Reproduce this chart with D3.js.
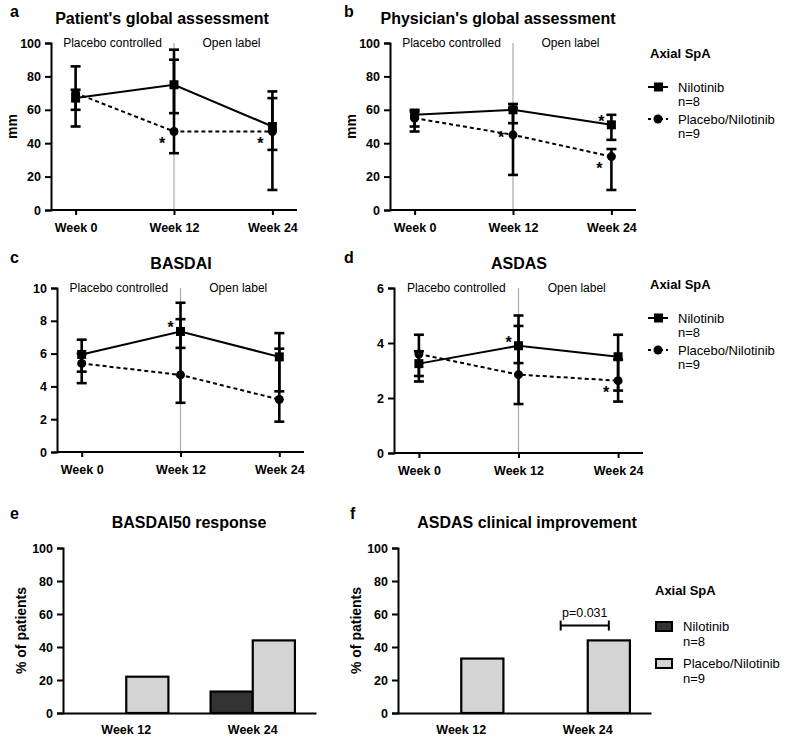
<html>
<head>
<meta charset="utf-8">
<title>Nilotinib axial SpA</title>
<script src="https://d3js.org/d3.v7.min.js"></script>
<style>
  body { margin: 0; padding: 0; background: #fff; }
  svg text { font-family: "Liberation Sans", Arial, Helvetica, sans-serif; fill: #000; }
</style>
</head>
<body>
<div id="chart"></div>
<script>

// ---- data ----
var weeks = ["Week 0", "Week 12", "Week 24"];
var seriesNames = ["Nilotinib", "Placebo/Nilotinib"];
var seriesN = ["n=8", "n=9"];

// a: patient's global assessment (mm)
var patientNilo   = [67, 75, 50];
var patientNiloLo = [50, 58, 36];
var patientNiloHi = [86, 96, 71];
var patientPlac   = [70, 47, 47];
var patientPlacLo = [60, 34, 12];
var patientPlacHi = [72, 90, 67];

// b: physician's global assessment (mm)
var physNilo   = [57, 60, 51];
var physNiloLo = [50, 52, 42];
var physNiloHi = [60, 63.5, 57];
var physPlac   = [55, 45, 32];
var physPlacLo = [47, 21, 12];
var physPlacHi = [59, 61, 36.5];

// c: BASDAI
var basdaiNilo   = [5.95, 7.35, 5.8];
var basdaiNiloLo = [4.9, 6.35, 3.7];
var basdaiNiloHi = [6.85, 9.1, 7.25];
var basdaiPlac   = [5.4, 4.7, 3.2];
var basdaiPlacLo = [4.2, 3.0, 1.85];
var basdaiPlacHi = [6.0, 8.1, 6.3];

// d: ASDAS
var asdasNilo   = [3.25, 3.9, 3.5];
var asdasNiloLo = [2.8, 3.27, 2.27];
var asdasNiloHi = [4.3, 5.0, 4.3];
var asdasPlac   = [3.6, 2.85, 2.63];
var asdasPlacLo = [2.6, 1.78, 1.87];
var asdasPlacHi = [3.7, 4.62, 3.4];

// significance stars: series 0 = Nilotinib, 1 = Placebo/Nilotinib
var patientStars = [{s: 1, w: 1, side: "below"}, {s: 1, w: 2, side: "below"}];
var physStars    = [{s: 1, w: 1, side: "left"}, {s: 0, w: 2, side: "above"}, {s: 1, w: 2, side: "below"}];
var basdaiStars  = [{s: 0, w: 1, side: "above"}];
var asdasStars   = [{s: 0, w: 1, side: "above"}, {s: 1, w: 2, side: "below"}];

// e, f: bar charts (% of patients)
var barWeeks = ["Week 12", "Week 24"];
var basdai50Nilo = [0, 13];
var basdai50Plac = [22, 44];
var asdasImpNilo = [0, 0];
var asdasImpPlac = [33, 44];
var pLabel = "p=0.031";
var pWeek = "Week 24";
var pLevel = 53;

var periodLabels = ["Placebo controlled", "Open label"];

// ---- drawing ----
var W = 785, H = 737;
var svg = d3.select("#chart").append("svg")
  .attr("width", W).attr("height", H);

var colors = ["#333333", "#d4d4d4"];
var starOffset = {above: [-10, -7], below: [-12, 8], left: [-12, -1]};

function styleAxis(g) {
  g.select(".domain").attr("stroke", "#000").attr("stroke-width", 2);
  g.selectAll(".tick line").attr("stroke", "#000").attr("stroke-width", 2);
  g.selectAll(".tick text").attr("font-size", 12.5).attr("font-weight", "bold")
    .style("font-family", '"Liberation Sans", Arial, sans-serif');
}

function linePanel(cfg) {
  var x = d3.scalePoint().domain(weeks).range([cfg.left, cfg.right]).padding(0.25);
  var y = d3.scaleLinear().domain([0, cfg.max]).range([cfg.bottom, cfg.top]);
  var g = svg.append("g");

  g.append("text").attr("x", cfg.letter[0]).attr("y", cfg.letter[1])
    .attr("font-size", 16).attr("font-weight", "bold").text(cfg.letterText);
  g.append("text").attr("x", cfg.titleX).attr("y", cfg.titleY)
    .attr("text-anchor", "middle").attr("font-size", 16).attr("font-weight", "bold")
    .text(cfg.title);

  if (cfg.ylabel) {
    g.append("text")
      .attr("transform", "translate(" + (cfg.left - 34) + "," + ((cfg.top + cfg.bottom) / 2) + ") rotate(-90)")
      .attr("text-anchor", "middle").attr("font-size", 14).attr("font-weight", "bold")
      .text(cfg.ylabel);
  }

  // divider between study periods
  g.append("line")
    .attr("x1", x("Week 12")).attr("x2", x("Week 12"))
    .attr("y1", cfg.top).attr("y2", cfg.bottom)
    .attr("stroke", "#aaa").attr("stroke-width", 1.2);

  g.append("text").attr("x", (cfg.left + x("Week 12")) / 2).attr("y", cfg.top + 4)
    .attr("text-anchor", "middle").attr("font-size", 12).text(periodLabels[0]);
  g.append("text").attr("x", (cfg.right + x("Week 12")) / 2 - 4).attr("y", cfg.top + 4)
    .attr("text-anchor", "middle").attr("font-size", 12).text(periodLabels[1]);

  var ya = g.append("g").attr("transform", "translate(" + cfg.left + ",0)")
    .call(d3.axisLeft(y).tickValues(cfg.ticks).tickFormat(d3.format("d"))
      .tickSizeOuter(0).tickSize(6).tickPadding(4));
  styleAxis(ya);
  var xa = g.append("g").attr("transform", "translate(0," + cfg.bottom + ")")
    .call(d3.axisBottom(x).tickSizeOuter(0).tickSize(5).tickPadding(8));
  xa.select(".domain").attr("d", "M" + cfg.left + ",0H" + cfg.right);
  styleAxis(xa);

  var series = [
    {mean: cfg.nilo, lo: cfg.niloLo, hi: cfg.niloHi, dash: null},
    {mean: cfg.plac, lo: cfg.placLo, hi: cfg.placHi, dash: "4,3"}
  ];

  var line = d3.line().x(function(d, i) { return x(weeks[i]); }).y(function(d) { return y(d); });

  series.forEach(function(s) {
    g.append("path").datum(s.mean).attr("d", line)
      .attr("fill", "none").attr("stroke", "#000").attr("stroke-width", 2)
      .attr("stroke-dasharray", s.dash);
  });

  series.forEach(function(s) {
    var eb = g.append("g").attr("stroke", "#000").attr("stroke-width", 2.6);
    weeks.forEach(function(wk, i) {
      var cx = x(wk);
      eb.append("line").attr("x1", cx).attr("x2", cx).attr("y1", y(s.lo[i])).attr("y2", y(s.hi[i]));
      [s.lo[i], s.hi[i]].forEach(function(v) {
        eb.append("line").attr("x1", cx - 5).attr("x2", cx + 5).attr("y1", y(v)).attr("y2", y(v));
      });
    });
  });

  g.selectAll(".sq").data(cfg.nilo).enter().append("rect")
    .attr("x", function(d, i) { return x(weeks[i]) - 4.5; })
    .attr("y", function(d) { return y(d) - 4.5; })
    .attr("width", 9).attr("height", 9).attr("fill", "#000");
  g.selectAll(".ci").data(cfg.plac).enter().append("circle")
    .attr("cx", function(d, i) { return x(weeks[i]); })
    .attr("cy", function(d) { return y(d); })
    .attr("r", 4.5).attr("fill", "#000");

  cfg.stars.forEach(function(st) {
    var v = (st.s === 0 ? cfg.nilo : cfg.plac)[st.w];
    var off = starOffset[st.side];
    g.append("text").attr("x", x(weeks[st.w]) + off[0]).attr("y", y(v) + off[1] + 9)
      .attr("text-anchor", "middle").attr("font-size", 16).attr("font-weight", "bold").text("*");
  });
}

function lineLegend(x0, y0) {
  var g = svg.append("g");
  g.append("text").attr("x", x0 + 2).attr("y", y0).attr("font-size", 13).attr("font-weight", "bold").text("Axial SpA");
  seriesNames.forEach(function(name, i) {
    var yy = y0 + 29 + i * 32;
    g.append("line").attr("x1", x0).attr("x2", x0 + 20).attr("y1", yy).attr("y2", yy)
      .attr("stroke", "#000").attr("stroke-width", 2).attr("stroke-dasharray", i ? "3,3" : null);
    if (i === 0) {
      g.append("rect").attr("x", x0 + 6).attr("y", yy - 4.5).attr("width", 9).attr("height", 9).attr("fill", "#000");
    } else {
      g.append("circle").attr("cx", x0 + 10).attr("cy", yy).attr("r", 4.5).attr("fill", "#000");
    }
    g.append("text").attr("x", x0 + 30).attr("y", yy + 5).attr("font-size", 13).text(name);
    g.append("text").attr("x", x0 + 30).attr("y", yy + 19).attr("font-size", 13).text(seriesN[i]);
  });
}

function barPanel(cfg) {
  var x0 = d3.scaleBand().domain(barWeeks).range([cfg.left, cfg.right]);
  var x1 = d3.scaleBand().domain([0, 1]).range([0, x0.bandwidth()]).paddingOuter(0.5);
  var y = d3.scaleLinear().domain([0, 100]).range([cfg.bottom, cfg.top]);
  var g = svg.append("g");

  g.append("text").attr("x", cfg.letter[0]).attr("y", cfg.letter[1])
    .attr("font-size", 16).attr("font-weight", "bold").text(cfg.letterText);
  g.append("text").attr("x", cfg.titleX).attr("y", cfg.titleY)
    .attr("text-anchor", "middle").attr("font-size", 16).attr("font-weight", "bold").text(cfg.title);
  g.append("text")
    .attr("transform", "translate(" + (cfg.left - 37) + "," + ((cfg.top + cfg.bottom) / 2) + ") rotate(-90)")
    .attr("text-anchor", "middle").attr("font-size", 14).attr("font-weight", "bold").text("% of patients");

  var vals = [cfg.nilo, cfg.plac];
  vals.forEach(function(arr, si) {
    var rows = arr.map(function(v, i) { return {week: barWeeks[i], v: v}; })
      .filter(function(d) { return d.v > 0; });
    g.selectAll(".b" + si).data(rows).enter().append("rect")
      .attr("x", function(d) { return x0(d.week) + x1(si); })
      .attr("y", function(d) { return y(d.v); })
      .attr("width", x1.bandwidth())
      .attr("height", function(d) { return y(0) - y(d.v); })
      .attr("fill", colors[si]).attr("stroke", "#000").attr("stroke-width", 2.2);
  });

  var ya = g.append("g").attr("transform", "translate(" + cfg.left + ",0)")
    .call(d3.axisLeft(y).tickValues([0, 20, 40, 60, 80, 100]).tickSizeOuter(0).tickSize(6).tickPadding(4));
  styleAxis(ya);
  var xa = g.append("g").attr("transform", "translate(0," + cfg.bottom + ")")
    .call(d3.axisBottom(x0).tickSize(0).tickSizeOuter(0).tickPadding(12));
  styleAxis(xa);

  if (cfg.pval) {
    var bx1 = x0(pWeek) + x1(0) + x1.bandwidth() / 2 - 6;
    var bx2 = x0(pWeek) + x1(1) + x1.bandwidth() / 2;
    var by = y(pLevel);
    var pg = g.append("g").attr("stroke", "#000").attr("stroke-width", 2);
    pg.append("line").attr("x1", bx1).attr("x2", bx2).attr("y1", by).attr("y2", by);
    pg.append("line").attr("x1", bx1).attr("x2", bx1).attr("y1", by - 5).attr("y2", by + 5);
    pg.append("line").attr("x1", bx2).attr("x2", bx2).attr("y1", by - 5).attr("y2", by + 5);
    g.append("text").attr("x", (bx1 + bx2) / 2).attr("y", by - 9)
      .attr("text-anchor", "middle").attr("font-size", 12.5).text(pLabel);
  }
}

function barLegend(x0, y0) {
  var g = svg.append("g");
  g.append("text").attr("x", x0).attr("y", y0).attr("font-size", 13).attr("font-weight", "bold").text("Axial SpA");
  seriesNames.forEach(function(name, i) {
    var yy = y0 + 31 + i * 37;
    g.append("rect").attr("x", x0 + 1).attr("y", yy - 4).attr("width", 16).attr("height", 9)
      .attr("fill", colors[i]).attr("stroke", "#000").attr("stroke-width", 2);
    g.append("text").attr("x", x0 + 28).attr("y", yy + 5).attr("font-size", 13).text(name);
    g.append("text").attr("x", x0 + 28).attr("y", yy + 20).attr("font-size", 13).text(seriesN[i]);
  });
}

linePanel({letterText: "a", letter: [10, 17], title: "Patient's global assessment", titleX: 162, titleY: 24,
  left: 51, right: 297, top: 43, bottom: 210, max: 100, ticks: [0, 20, 40, 60, 80, 100], ylabel: "mm",
  nilo: patientNilo, niloLo: patientNiloLo, niloHi: patientNiloHi,
  plac: patientPlac, placLo: patientPlacLo, placHi: patientPlacHi, stars: patientStars});

linePanel({letterText: "b", letter: [344, 17], title: "Physician's global assessment", titleX: 498, titleY: 24,
  left: 390, right: 636, top: 43, bottom: 210, max: 100, ticks: [0, 20, 40, 60, 80, 100], ylabel: "mm",
  nilo: physNilo, niloLo: physNiloLo, niloHi: physNiloHi,
  plac: physPlac, placLo: physPlacLo, placHi: physPlacHi, stars: physStars});

linePanel({letterText: "c", letter: [10, 263], title: "BASDAI", titleX: 181, titleY: 269,
  left: 57, right: 304, top: 288, bottom: 452, max: 10, ticks: [0, 2, 4, 6, 8, 10],
  nilo: basdaiNilo, niloLo: basdaiNiloLo, niloHi: basdaiNiloHi,
  plac: basdaiPlac, placLo: basdaiPlacLo, placHi: basdaiPlacHi, stars: basdaiStars});

linePanel({letterText: "d", letter: [344, 263], title: "ASDAS", titleX: 519, titleY: 269,
  left: 394, right: 643, top: 288, bottom: 453, max: 6, ticks: [0, 2, 4, 6],
  nilo: asdasNilo, niloLo: asdasNiloLo, niloHi: asdasNiloHi,
  plac: asdasPlac, placLo: asdasPlacLo, placHi: asdasPlacHi, stars: asdasStars});

lineLegend(648, 58);
lineLegend(648, 289);

barPanel({letterText: "e", letter: [10, 519], title: "BASDAI50 response", titleX: 189, titleY: 528,
  left: 63, right: 316, top: 548, bottom: 713, nilo: basdai50Nilo, plac: basdai50Plac});
barPanel({letterText: "f", letter: [350, 519], title: "ASDAS clinical improvement", titleX: 527, titleY: 528,
  left: 398, right: 651, top: 548, bottom: 713, nilo: asdasImpNilo, plac: asdasImpPlac, pval: true});

barLegend(655, 595);

</script>
</body>
</html>
